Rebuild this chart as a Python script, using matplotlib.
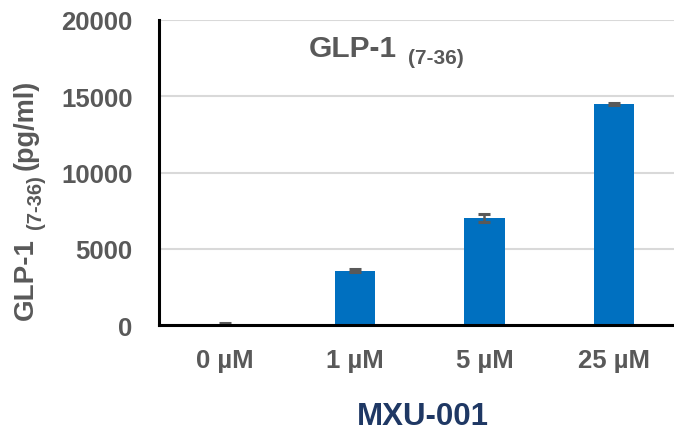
import matplotlib
matplotlib.use("Agg")
import matplotlib.pyplot as plt
import numpy as np

categories = ["0 µM", "1 µM", "5 µM", "25 µM"]
values = [60, 3580, 7020, 14490]
errors = [110, 80, 280, 70]
yticks = [0, 5000, 10000, 15000, 20000]

W, H = 674, 431
plt.rcParams['font.family'] = ['Liberation Sans', 'DejaVu Sans']
fig = plt.figure(figsize=(W / 100, H / 100), dpi=100)

def px(x, y):
    return (x / W, 1 - y / H)

l, b = px(159, 326.3)
r, t = px(674, 20.7)
ax = fig.add_axes([l, b, r - l, t - b])

gray = '#595959'
x = np.arange(len(categories))
ax.bar(x, values, width=0.31, color='#0070C0', zorder=3)
ax.errorbar(x, values, yerr=errors, fmt='none', ecolor=gray, elinewidth=1.8,
            capsize=4, capthick=2.2, zorder=4)

ax.set_xlim(-0.507, 3.46)
ax.set_ylim(0, 20000)
ax.set_yticks(yticks)
ax.set_yticklabels([str(v) for v in yticks])
ax.set_xticks(x)
ax.set_xticklabels(categories)
ax.yaxis.grid(True, color='#D9D9D9', linewidth=1.5, zorder=0)
ax.set_axisbelow(True)
for s in ['top', 'right']:
    ax.spines[s].set_visible(False)
for s in ['left', 'bottom']:
    ax.spines[s].set_linewidth(2.2)
    ax.spines[s].set_color('black')
    ax.spines[s].set_zorder(5)
ax.tick_params(axis='both', length=0)
ax.tick_params(axis='y', pad=19, labelsize=18.5, labelcolor=gray)
ax.tick_params(axis='x', pad=16, labelsize=18.5, labelcolor=gray)
for lab in ax.get_xticklabels() + ax.get_yticklabels():
    lab.set_fontweight('bold')

# Title with subscript
fig.text(*px(309, 57), 'GLP-1', fontsize=21.5, fontweight='bold', color=gray,
         ha='left', va='baseline')
fig.text(*px(408, 64), '(7-36)', fontsize=15, fontweight='bold', color=gray,
         ha='left', va='baseline')

# Y label with subscript (rotated)
fig.text(*px(33, 320), 'GLP-1', fontsize=20, fontweight='bold', color=gray,
         rotation=90, rotation_mode='anchor', ha='left', va='baseline')
fig.text(*px(41, 229), '(7-36)', fontsize=14.5, fontweight='bold', color=gray,
         rotation=90, rotation_mode='anchor', ha='left', va='baseline')
fig.text(*px(33, 170), '(pg/ml)', fontsize=19.5, fontweight='bold', color=gray,
         rotation=90, rotation_mode='anchor', ha='left', va='baseline')

# X axis label
fig.text(*px(423, 425), 'MXU-001', fontsize=22.5, fontweight='bold',
         color='#1F3864', ha='center', va='baseline')

fig.savefig('out.png', dpi=100)
